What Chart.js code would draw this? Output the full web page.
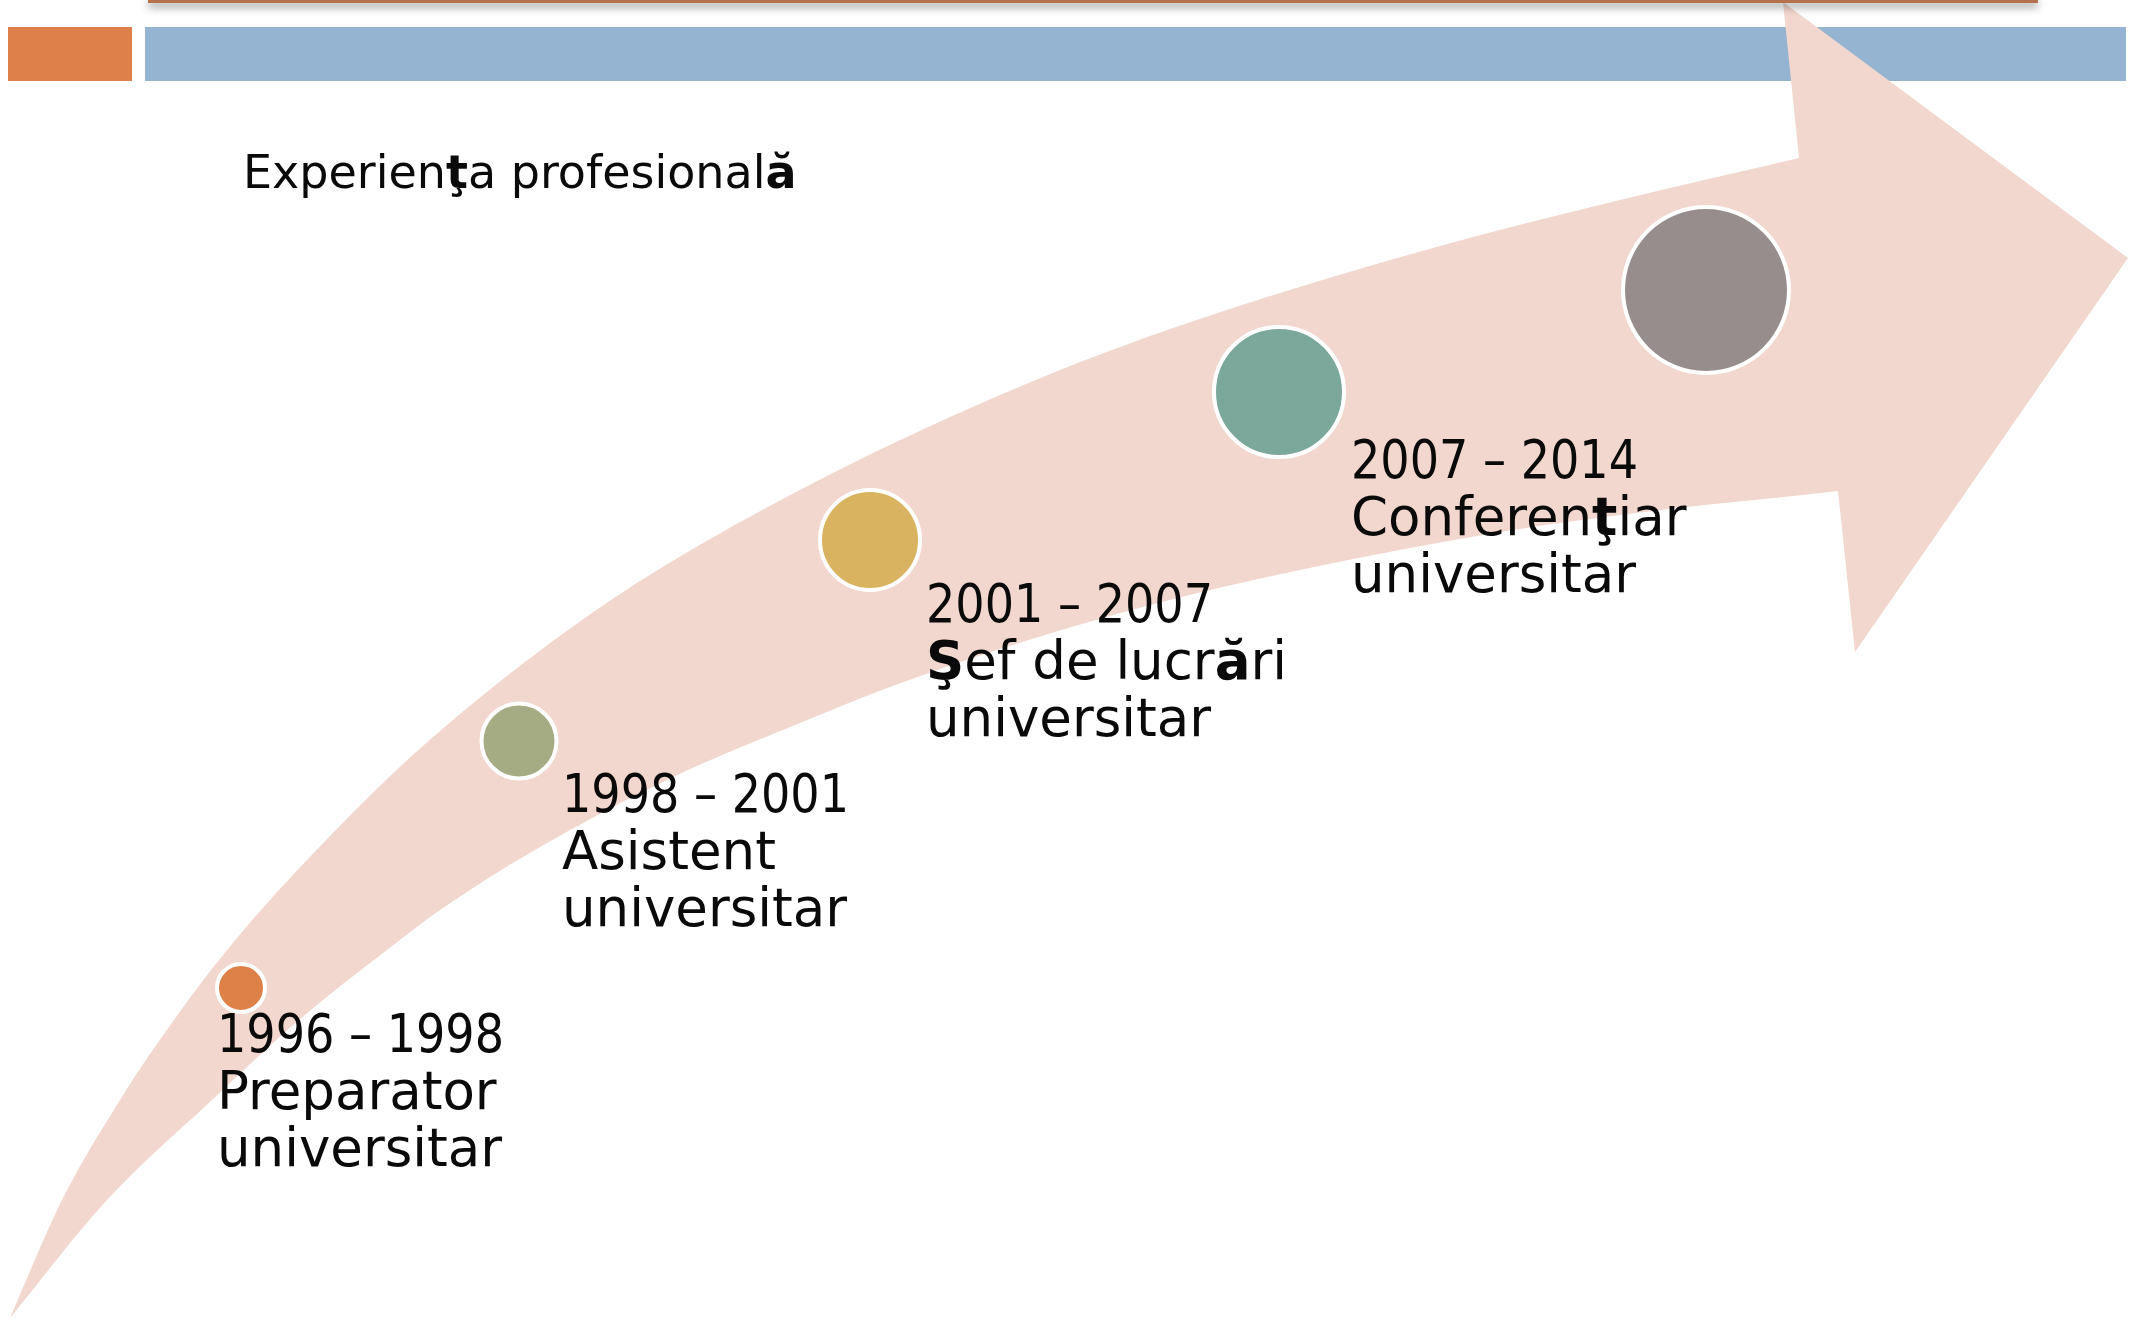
<!DOCTYPE html>
<html>
<head>
<meta charset="utf-8">
<script src="https://cdn.jsdelivr.net/npm/chart.js@4.4.1/dist/chart.umd.min.js"></script>
<style>
  html, body { margin: 0; padding: 0; background: #fff; overflow: hidden; }
  canvas { display: block; }
</style>
</head>
<body>
<canvas id="timeline" width="2134" height="1319"></canvas>
<script>
const W = 2134, H = 1319;

// texts
const title = 'Experienţa profesională';
const periods = ['1996 – 1998', '1998 – 2001', '2001 – 2007', '2007 – 2014'];
const roles = [
  ['Preparator', 'universitar'],
  ['Asistent', 'universitar'],
  ['Şef de lucrări', 'universitar'],
  ['Conferenţiar', 'universitar']
];

// milestone circles, in slide units (1 unit = 1 px of the slide)
const nodeX = [241, 519, 870, 1279, 1706];
const nodeY = [988, 741, 540, 392, 290];
const nodeR = [24, 37.5, 50, 65, 83];
const nodeColors = ['#DE8148', '#A5AB82', '#D9B360', '#7CA89C', '#978D8C'];

// where each label block starts (left edge, first baseline)
const labelX = [217, 562, 926, 1351];
const labelY = [1052, 812, 622, 478];

// curved arrow outline
const upperX = [10, 62, 120, 150, 223, 330, 440, 614, 800, 1000, 1150, 1306, 1462, 1620, 1799, 1850];
const upperY = [1318, 1200, 1100, 1054, 955, 836, 731, 598, 490, 395, 336, 285, 240, 200, 158, 146];
const lowerX = [1860, 1838, 1660, 1507, 1300, 1150, 1000, 890, 800, 673, 540, 440, 387, 300, 212, 107, 10];
const lowerY = [488, 491, 510, 531, 570, 605, 649, 687, 723, 777, 847, 910, 950, 1019, 1100, 1200, 1318];
const headX = [1799, 1783, 2128, 1855, 1838];
const headY = [158, 2, 258, 652, 491];

const pts = (xs, ys) => xs.map((x, i) => ({ x, y: ys[i] }));
const shaftPts = pts(upperX, upperY).concat(pts(lowerX, lowerY));

const BOLD_CHARS = 'ŞşŢţĂă';
const TEXT_FONT = '"DejaVu Sans", sans-serif';

// draws a line where the Romanian diacritics come out bold (as in the slide)
function richText(ctx, text, x, y, size, maxWidth) {
  const runs = [];
  for (const ch of text) {
    const b = BOLD_CHARS.includes(ch);
    if (runs.length && runs[runs.length - 1].b === b) runs[runs.length - 1].t += ch;
    else runs.push({ t: ch, b });
  }
  let total = 0;
  runs.forEach(r => {
    ctx.font = (r.b ? 'bold ' : '') + size + 'px ' + TEXT_FONT;
    r.w = ctx.measureText(r.t).width;
    total += r.w;
  });
  const sx = maxWidth ? Math.min(1, maxWidth / total) : 1;
  ctx.save();
  ctx.translate(x, y);
  ctx.scale(sx, 1);
  let cx = 0;
  runs.forEach(r => {
    ctx.font = (r.b ? 'bold ' : '') + size + 'px ' + TEXT_FONT;
    ctx.fillText(r.t, cx, 0);
    cx += r.w;
  });
  ctx.restore();
}

const slideDecor = {
  id: 'slideDecor',
  beforeDatasetsDraw(chart) {
    const ctx = chart.ctx;
    ctx.save();
    ctx.fillStyle = '#DE8049';
    ctx.fillRect(8, 27, 124, 54);
    ctx.fillStyle = '#95B4D2';
    ctx.fillRect(145, 27, 1981, 54);
    ctx.fillStyle = '#0a0a0a';
    ctx.textBaseline = 'alphabetic';
    richText(ctx, title, 243, 188, 46);
    ctx.restore();
  },
  afterDatasetsDraw(chart) {
    const ctx = chart.ctx;
    const xs = chart.scales.x, ys = chart.scales.y;
    ctx.save();
    // thin rule at the top with its shadow
    ctx.shadowColor = 'rgba(0,0,0,0.45)';
    ctx.shadowBlur = 9;
    ctx.shadowOffsetY = 4;
    ctx.fillStyle = '#B5704C';
    ctx.fillRect(148, -2, 1890, 5);
    ctx.restore();

    ctx.save();
    ctx.fillStyle = '#0a0a0a';
    ctx.textBaseline = 'alphabetic';
    periods.forEach((p, i) => {
      const x = xs.getPixelForValue(labelX[i]);
      const y = ys.getPixelForValue(labelY[i]);
      richText(ctx, p, x, y, 53, 287);
      roles[i].forEach((line, j) => richText(ctx, line, x, y + 57 * (j + 1), 53));
    });
    ctx.restore();
  }
};

new Chart(document.getElementById('timeline'), {
  type: 'scatter',
  data: {
    datasets: [
      {
        label: 'milestones',
        data: pts(nodeX, nodeY),
        pointRadius: nodeR,
        pointHoverRadius: nodeR,
        pointBackgroundColor: nodeColors,
        pointBorderColor: '#ffffff',
        pointBorderWidth: 4,
        showLine: false,
        clip: false,
        order: 0
      },
      {
        label: 'arrow head',
        data: pts(headX, headY),
        showLine: true,
        fill: 'shape',
        backgroundColor: '#F2D7CE',
        borderWidth: 0,
        pointRadius: 0,
        tension: 0,
        clip: false,
        order: 1
      },
      {
        label: 'arrow shaft',
        data: shaftPts,
        showLine: true,
        fill: 'shape',
        backgroundColor: '#F2D7CE',
        borderWidth: 0,
        pointRadius: 0,
        cubicInterpolationMode: 'monotone',
        clip: false,
        order: 2
      }
    ]
  },
  options: {
    responsive: false,
    animation: false,
    devicePixelRatio: 1,
    events: [],
    layout: { padding: 0, autoPadding: false },
    plugins: { legend: { display: false }, tooltip: { enabled: false } },
    scales: {
      x: { type: 'linear', min: 0, max: W, display: false },
      y: { type: 'linear', min: 0, max: H, reverse: true, display: false }
    }
  },
  plugins: [slideDecor]
});
</script>
</body>
</html>
